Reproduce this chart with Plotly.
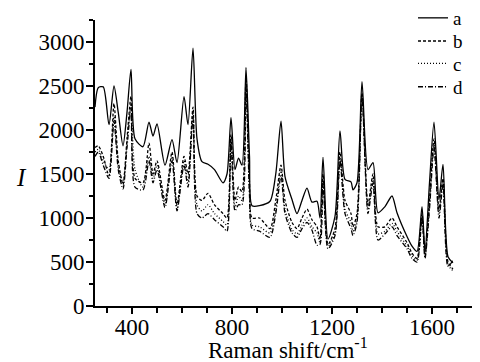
import plotly.graph_objects as go

raman_shift = [252, 265, 285, 308, 328, 345, 364, 380, 396, 412, 444, 468, 484, 500, 532, 560, 580, 608, 624, 644,
               660, 680, 704, 730, 764, 780, 796, 812, 826, 840, 856, 870, 880, 910, 952, 975, 996, 1012, 1040, 1060,
               1080, 1100, 1120, 1140, 1152, 1164, 1184, 1212, 1232, 1252, 1276, 1284, 1300, 1320, 1344, 1364, 1384,
               1412, 1440, 1460, 1500, 1520, 1540, 1560, 1572, 1590, 1608, 1628, 1644, 1664, 1684]

series_a = [2260, 2480, 2490, 2060, 2500, 2200, 1820, 2200, 2690, 1900, 1810, 2090, 1930, 2070, 1600, 1890, 1630, 2380, 2060, 2930,
            1900, 1640, 1610, 1550, 1400, 1500, 2140, 1550, 1680, 1600, 2710, 1700, 1140, 1140, 1190, 1500, 2100, 1470, 1210, 1050,
            1200, 1340, 1180, 1190, 1000, 1690, 760, 1020, 1990, 1440, 1410, 1320, 1400, 2550, 1550, 1630, 1060,
            1130, 1250, 1060, 790, 680, 620, 1130, 620, 1400, 2090, 1210, 1610, 560, 490]

series_b = [1800, 1820, 1700, 1480, 2300, 1650, 1380, 1900, 2380, 1450, 1400, 1850, 1500, 1650, 1200, 1750, 1150, 1700, 1500, 2260,
            1250, 1200, 1280, 1150, 1050, 1000, 1950, 1200, 1350, 1300, 2600, 1400, 1000, 1000, 880, 1200, 1600, 1200, 950, 880,
            1000, 1100, 980, 900, 760, 1500, 700, 880, 1750, 1200, 1050, 900, 1050, 2420, 1150, 1500, 900,
            900, 1000, 900, 720, 600, 540, 1050, 570, 1200, 1900, 1100, 1450, 500, 420]

series_c = [1750, 1780, 1650, 1550, 2150, 1600, 1400, 1850, 2300, 1550, 1350, 1700, 1450, 1600, 1150, 1700, 1100, 1650, 1400, 2200,
            1150, 1080, 1150, 1050, 960, 920, 1900, 1120, 1250, 1200, 2550, 1300, 920, 900, 830, 1100, 1550, 1100, 870, 820,
            920, 1000, 900, 830, 720, 1450, 680, 830, 1700, 1100, 950, 850, 980, 2400, 1100, 1450, 820,
            850, 940, 850, 680, 570, 520, 1020, 560, 1150, 1850, 1050, 1420, 470, 400]

series_d = [1700, 1750, 1600, 1450, 2100, 1550, 1330, 1800, 2250, 1350, 1320, 1650, 1400, 1550, 1120, 1650, 1080, 1600, 1350, 2150,
            1050, 1000, 1050, 980, 900, 850, 1850, 1080, 1150, 1150, 2480, 1250, 880, 850, 780, 1050, 1480, 1050, 830, 780,
            880, 950, 860, 690, 700, 1400, 650, 800, 1650, 1050, 880, 800, 950, 2380, 1050, 1400, 750,
            820, 900, 800, 650, 540, 500, 1000, 540, 1100, 1800, 1000, 1380, 450, 520]

labels = ["a", "b", "c", "d"]
dashes = ["solid", "3px,2px", "1px,2px", "5px,2px,1px,2px"]
all_series = [series_a, series_b, series_c, series_d]
legend_ids = ["legend", "legend2", "legend3", "legend4"]
legend_y = [1.007, 0.926, 0.848, 0.766]

FONT = "Liberation Serif, serif"

fig = go.Figure()
for lab, ys, dash, lid in zip(labels, all_series, dashes, legend_ids):
    fig.add_trace(go.Scatter(
        x=raman_shift, y=ys, mode="lines", name=lab, legend=lid,
        line=dict(color="black", width=1.3, dash=dash, shape="spline", smoothing=0.7),
    ))

legend_common = dict(x=0.826, xanchor="left", yanchor="middle",
                     font=dict(size=19, family=FONT), bgcolor="rgba(0,0,0,0)",
                     itemwidth=30, borderwidth=0)

# page has an 8px body margin, so the figure is 8px smaller and shifted
fig.update_layout(
    width=472, height=354,
    margin=dict(l=87, r=0, t=12, b=56, autoexpand=False),
    paper_bgcolor="white", plot_bgcolor="white",
    font=dict(family=FONT, size=20, color="black"),
    showlegend=True,
    legend=dict(y=legend_y[0], **legend_common),
    legend2=dict(y=legend_y[1], **legend_common),
    legend3=dict(y=legend_y[2], **legend_common),
    legend4=dict(y=legend_y[3], **legend_common),
    annotations=[
        dict(text="Raman shift/cm<sup>-1</sup>", xref="paper", yref="paper", x=0.5, y=-0.15,
             xanchor="center", yanchor="middle", showarrow=False, font=dict(size=23, family=FONT)),
        dict(text="<i>I</i>", xref="paper", yref="paper", x=-0.192, y=0.45,
             xanchor="center", yanchor="middle", showarrow=False, font=dict(size=25, family=FONT)),
    ],
)

fig.update_xaxes(
    range=[252, 1792], tickmode="array", tickvals=[400, 800, 1200, 1600],
    ticks="outside", ticklen=6, tickwidth=1.5, tickcolor="black", automargin=False,
    ticklabelstandoff=-7,
    showline=True, linecolor="black", linewidth=2, showgrid=False, zeroline=False,
    tickfont=dict(size=23, family=FONT),
    minor=dict(dtick=100, tick0=0, ticks="outside", ticklen=5, tickwidth=1.5, tickcolor="black"),
)
fig.update_yaxes(
    range=[0, 3250], tickmode="array", tickvals=[0, 500, 1000, 1500, 2000, 2500, 3000],
    ticks="outside", ticklen=7, tickwidth=1.5, tickcolor="black", automargin=False,
    ticklabelstandoff=-3,
    showline=True, linecolor="black", linewidth=2, showgrid=False, zeroline=False,
    tickfont=dict(size=23, family=FONT),
    minor=dict(dtick=250, tick0=0, ticks="outside", ticklen=4, tickwidth=1.5, tickcolor="black"),
)

fig.write_html("out.html")
